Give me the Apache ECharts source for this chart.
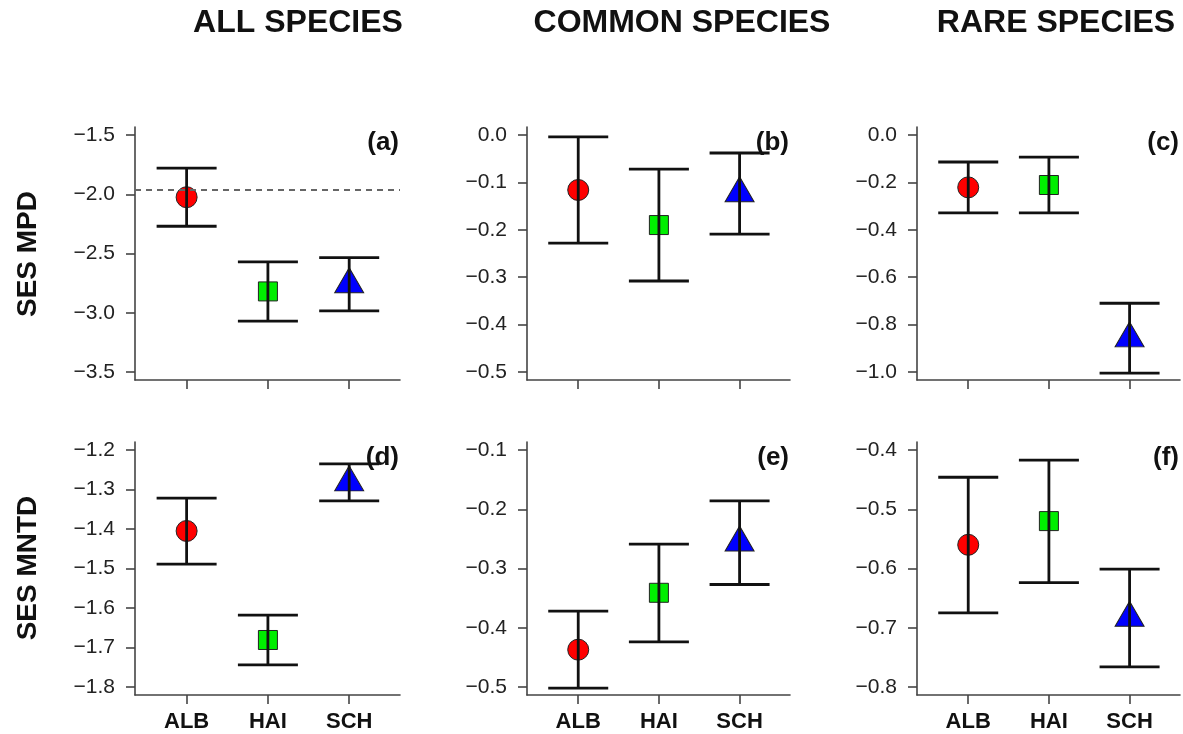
<!DOCTYPE html>
<html>
<head>
<meta charset="utf-8">
<script src="https://cdn.jsdelivr.net/npm/echarts@6/dist/echarts.min.js"></script>
<style>
  html, body { margin: 0; padding: 0; background: #fff; }
  #chart { width: 1183px; height: 734px; }
</style>
</head>
<body>
<div id="chart"></div>
<script>
// sites
var groups = ['ALB', 'HAI', 'SCH'];

// SES MPD, all species (a)
var aMean = [-2.025, -2.82, -2.76];
var aUpper = [-1.78, -2.57, -2.535];
var aLower = [-2.27, -3.07, -2.985];
var aTicks = [-3.5, -3.0, -2.5, -2.0, -1.5];

// SES MPD, common species (b)
var bMean = [-0.116, -0.19, -0.123];
var bUpper = [-0.004, -0.072, -0.038];
var bLower = [-0.228, -0.308, -0.209];
var bTicks = [-0.5, -0.4, -0.3, -0.2, -0.1, 0.0];

// SES MPD, rare species (c)
var cMean = [-0.221, -0.211, -0.858];
var cUpper = [-0.114, -0.093, -0.71];
var cLower = [-0.329, -0.329, -1.005];
var cTicks = [-1.0, -0.8, -0.6, -0.4, -0.2, 0.0];

// SES MNTD, all species (d)
var dMean = [-1.405, -1.681, -1.282];
var dUpper = [-1.322, -1.618, -1.235];
var dLower = [-1.489, -1.744, -1.329];
var dTicks = [-1.8, -1.7, -1.6, -1.5, -1.4, -1.3, -1.2];

// SES MNTD, common species (e)
var eMean = [-0.437, -0.341, -0.256];
var eUpper = [-0.372, -0.259, -0.186];
var eLower = [-0.502, -0.424, -0.327];
var eTicks = [-0.5, -0.4, -0.3, -0.2, -0.1];

// SES MNTD, rare species (f)
var fMean = [-0.560, -0.520, -0.683];
var fUpper = [-0.446, -0.417, -0.601];
var fLower = [-0.675, -0.624, -0.766];
var fTicks = [-0.8, -0.7, -0.6, -0.5, -0.4];

// reference line in (a)
var refLine = -1.96;

var fillColors = ['#ff0000', '#00ee00', '#0000ff'];
var symbols = ['circle', 'rect', 'triangle'];
var symbolSizes = [21, 19, [29, 25]];
var symbolOffsets = [[0, 0], [0, 0], [0, -4]];

var panels = [
  { mean: aMean, upper: aUpper, lower: aLower, ticks: aTicks, tag: '(a)' },
  { mean: bMean, upper: bUpper, lower: bLower, ticks: bTicks, tag: '(b)' },
  { mean: cMean, upper: cUpper, lower: cLower, ticks: cTicks, tag: '(c)' },
  { mean: dMean, upper: dUpper, lower: dLower, ticks: dTicks, tag: '(d)' },
  { mean: eMean, upper: eUpper, lower: eLower, ticks: eTicks, tag: '(e)' },
  { mean: fMean, upper: fUpper, lower: fLower, ticks: fTicks, tag: '(f)' }
];

var colLeft = [135, 527, 917];
var colWidth = [265, 263, 263];
var rowTop = [127, 442];
var rowHeight = 253;
var font = 'Liberation Sans, Arial, Helvetica, sans-serif';
var axisColor = '#444';

function fmt(v) {
  var s = Math.abs(v).toFixed(1);
  return (v < 0 ? '\u2212' : '') + s;
}

var grids = [], xAxes = [], yAxes = [], series = [], graphics = [];

panels.forEach(function (p, i) {
  var col = i % 3, row = Math.floor(i / 3);
  grids.push({ left: colLeft[col], top: rowTop[row], width: colWidth[col], height: rowHeight });

  xAxes.push({
    gridIndex: i, type: 'value', min: 0.365, max: 3.625,
    axisLine: { show: true, onZero: false, lineStyle: { color: axisColor, width: 1.6 } },
    axisTick: { show: true, length: 9, customValues: [1, 2, 3], lineStyle: { color: axisColor, width: 1.6 } },
    axisLabel: {
      show: row === 1, customValues: [1, 2, 3], margin: 16,
      formatter: function (v) { return groups[Math.round(v) - 1] || ''; },
      fontFamily: font, fontWeight: 'bold', fontSize: 22, color: '#111'
    },
    splitLine: { show: false }
  });

  var lo = p.ticks[0], hi = p.ticks[p.ticks.length - 1];
  var pad = (hi - lo) * 8 / 237;
  yAxes.push({
    gridIndex: i, type: 'value', min: lo - pad, max: hi + pad,
    axisLine: { show: true, onZero: false, lineStyle: { color: axisColor, width: 1.6 } },
    axisTick: { show: true, length: 9, customValues: p.ticks, lineStyle: { color: axisColor, width: 1.6 } },
    axisLabel: {
      customValues: p.ticks, margin: 20, formatter: fmt,
      fontFamily: font, fontSize: 21, color: '#222'
    },
    splitLine: { show: false }
  });

  var pts = p.mean.map(function (m, k) {
    return {
      value: [k + 1, m],
      symbol: symbols[k],
      symbolSize: symbolSizes[k],
      symbolOffset: symbolOffsets[k],
      itemStyle: { color: fillColors[k], borderColor: '#222', borderWidth: 1, opacity: 1 }
    };
  });
  var scatter = {
    type: 'scatter', xAxisIndex: i, yAxisIndex: i, data: pts, z: 3,
    silent: true, animation: false, itemStyle: { opacity: 1 }
  };
  if (i === 0) {
    scatter.markLine = {
      silent: true, symbol: 'none', animation: false,
      label: { show: false },
      lineStyle: { color: '#666', type: [6, 5], width: 2 },
      data: [{ yAxis: refLine }]
    };
  }
  series.push(scatter);

  series.push({
    type: 'custom', xAxisIndex: i, yAxisIndex: i, z: 4, animation: false, silent: true,
    data: p.mean.map(function (m, k) { return [k + 1, p.lower[k], p.upper[k]]; }),
    renderItem: function (params, api) {
      var x = api.value(0);
      var a = api.coord([x, api.value(1)]);
      var b = api.coord([x, api.value(2)]);
      var hw = 30;
      var st = { stroke: '#111', lineWidth: 2.8 };
      return {
        type: 'group',
        children: [
          { type: 'line', shape: { x1: a[0], y1: a[1], x2: b[0], y2: b[1] }, style: st },
          { type: 'line', shape: { x1: a[0] - hw, y1: a[1], x2: a[0] + hw, y2: a[1] }, style: st },
          { type: 'line', shape: { x1: b[0] - hw, y1: b[1], x2: b[0] + hw, y2: b[1] }, style: st }
        ]
      };
    }
  });

  graphics.push({
    type: 'text', right: 1183 - (colLeft[col] + colWidth[col]) + 1, top: rowTop[row] + 3,
    style: { text: p.tag, font: 'bold 26px ' + font, fill: '#111' }
  });
});

// column headers
var headers = [['ALL SPECIES', 298], ['COMMON SPECIES', 682], ['RARE SPECIES', 1056]];
headers.forEach(function (h) {
  graphics.push({
    type: 'text', x: h[1], y: 23,
    style: { text: h[0], font: 'bold 32px ' + font, fill: '#111', textAlign: 'center', textVerticalAlign: 'middle' }
  });
});

// row titles
var rowTitles = [['SES MPD', 254], ['SES MNTD', 568]];
rowTitles.forEach(function (r) {
  graphics.push({
    type: 'text', x: 28, y: r[1], rotation: Math.PI / 2,
    style: { text: r[0], font: 'bold 28px ' + font, fill: '#111', textAlign: 'center', textVerticalAlign: 'middle' }
  });
});

var chart = echarts.init(document.getElementById('chart'));
chart.setOption({
  backgroundColor: '#fff',
  animation: false,
  grid: grids,
  xAxis: xAxes,
  yAxis: yAxes,
  series: series,
  graphic: graphics
});
</script>
</body>
</html>
